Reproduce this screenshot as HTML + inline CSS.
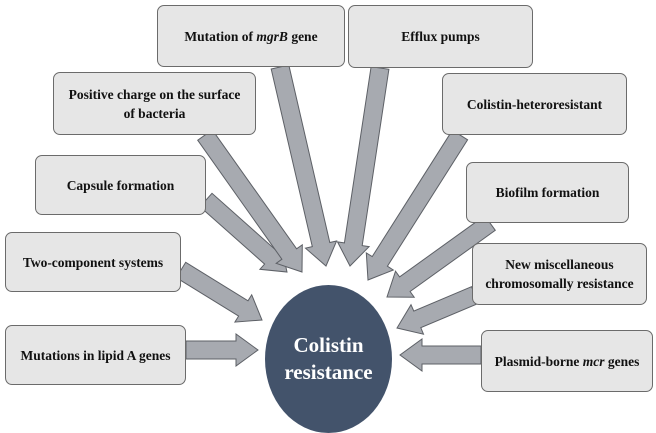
<!DOCTYPE html>
<html><head><style>
body{margin:0;background:#fff;width:656px;height:430px;overflow:hidden;position:relative;font-family:"Liberation Serif",serif;}
.b{position:absolute;background:#e6e6e6;border:1.5px solid #6b6b6b;border-radius:7px;box-sizing:border-box;display:flex;align-items:center;justify-content:center;text-align:center;font-weight:bold;font-size:13.5px;color:#111;line-height:19px;}
svg{position:absolute;left:0;top:0;}
.c{position:absolute;left:265px;top:285px;width:127px;height:148px;border-radius:50%;background:#43536b;color:#fff;font-weight:bold;font-size:21px;display:flex;align-items:center;justify-content:center;text-align:center;line-height:27px;}
</style></head><body>
<svg width="656" height="430" id="s"></svg>
<div class="b" style="left:157px;top:5px;width:188px;height:62px">Mutation of&nbsp;<i>mgrB</i>&nbsp;gene</div>
<div class="b" style="left:348px;top:5px;width:185px;height:63px">Efflux pumps</div>
<div class="b" style="left:53px;top:72px;width:203px;height:63px">Positive charge on the surface<br>of bacteria</div>
<div class="b" style="left:442px;top:73px;width:185px;height:62px">Colistin-heteroresistant</div>
<div class="b" style="left:35px;top:155px;width:171px;height:60px">Capsule formation</div>
<div class="b" style="left:466px;top:162px;width:163px;height:61px">Biofilm formation</div>
<div class="b" style="left:5px;top:232px;width:176px;height:60px">Two-component systems</div>
<div class="b" style="left:472px;top:243px;width:175px;height:62px">New miscellaneous<br>chromosomally resistance</div>
<div class="b" style="left:5px;top:325px;width:181px;height:60px">Mutations in lipid A genes</div>
<div class="b" style="left:481px;top:330px;width:172px;height:62px">Plasmid-borne&nbsp;<i>mcr</i>&nbsp;genes</div>
<div class="c">Colistin<br>resistance</div>
<script>
var A=[[186,350,258,350],[181,270,262,320],[206,200,287,272],[205,135,302,272],[280,67,326,266],[380,68,350,266],[460,135,368,280],[490,223,387,297],[475,295,397,328],[481,355,400,355]];
var s=document.getElementById('s'),h='';
A.forEach(function(a){var dx=a[2]-a[0],dy=a[3]-a[1],L=Math.hypot(dx,dy),ux=dx/L,uy=dy/L,px=-uy,py=ux,w=9,W=16,hl=22;
var bx=a[2]-ux*hl,by=a[3]-uy*hl;
var p=[[a[0]+px*w,a[1]+py*w],[bx+px*w,by+py*w],[bx+px*W,by+py*W],[a[2],a[3]],[bx-px*W,by-py*W],[bx-px*w,by-py*w],[a[0]-px*w,a[1]-py*w]];
h+='<polygon points="'+p.map(function(q){return q[0].toFixed(1)+','+q[1].toFixed(1)}).join(' ')+'" fill="#a7aab0" stroke="#5d6066" stroke-width="1"/>';});
s.innerHTML=h;
</script>
</body></html>
